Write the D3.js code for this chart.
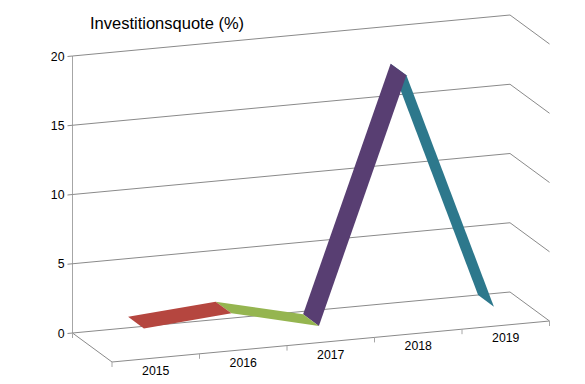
<!DOCTYPE html>
<html>
<head>
<meta charset="utf-8">
<script src="https://cdn.jsdelivr.net/npm/d3@7"></script>
<style>
  html, body { margin: 0; padding: 0; background: #fff; }
  text { font-family: "Liberation Sans", Arial, sans-serif; fill: #000; }
</style>
</head>
<body>
<div id="chart"></div>
<script>
// values
const years = ["2015", "2016", "2017", "2018", "2019"];
const quote = [1.5, 2.0, 0.5, 18, 0.7];
const valueTicks = [0, 5, 10, 15, 20];
const segmentColors = ["#b5463f", "#95b550", "#583e72", "#2d788c"];
const chartTitle = "Investitionsquote (%)";

const width = 585, height = 384;

// 3D box: back-left floor corner, category direction, depth direction
const origin = {x: 72.5, y: 333};
const catRun = {x: 437.5, y: -41};
const depthRun = {x: 39.5, y: 29};

const cat = d3.scaleBand().domain(years).range([0, 1]);
const val = d3.scaleLinear().domain([0, 20]).range([0, 277]);
// ribbon sits between 30% and 70% of the box depth
const ribbonBack = 0.3, ribbonFront = 0.7;

function project(c, d, v) {
    return [
        origin.x + c * catRun.x + d * depthRun.x,
        origin.y + c * catRun.y + d * depthRun.y - val(v)
    ];
}
const catCenter = y => cat(y) + cat.bandwidth() / 2;

const svg = d3.select("#chart").append("svg")
    .attr("width", width)
    .attr("height", height);

const line = d3.line();
const grid = "#8a8a8a";

// left wall line
svg.append("path")
    .attr("d", line([project(0, 0, 0), project(0, 0, 20)]))
    .attr("stroke", "#a6a6a6").attr("fill", "none");

// gridlines: back wall + side wall
svg.selectAll(".grid")
  .data(valueTicks)
  .enter()
  .append("path")
    .attr("class", "grid")
    .attr("d", v => line([project(0, 0, v), project(1, 0, v), project(1, 1, v)]))
    .attr("stroke", grid)
    .attr("fill", "none");

// value ticks + labels
svg.selectAll(".vtick")
  .data(valueTicks)
  .enter()
  .append("path")
    .attr("class", "vtick")
    .attr("d", v => {
        const p = project(0, 0, v);
        return line([[p[0] - 5, p[1] + 0.5], p]);
    })
    .attr("stroke", grid);

svg.selectAll(".vlabel")
  .data(valueTicks)
  .enter()
  .append("text")
    .attr("class", "vlabel")
    .attr("x", v => project(0, 0, v)[0] - 8)
    .attr("y", v => project(0, 0, v)[1] + 4.5)
    .attr("text-anchor", "end")
    .style("font-size", "12.3px")
    .text(v => v);

// floor edges
svg.append("path")
    .attr("d", line([project(0, 0, 0), project(0, 1, 0), project(1, 1, 0)]))
    .attr("stroke", grid).attr("fill", "none");

// small tick under the back-left corner
svg.append("path")
    .attr("d", () => {
        const p = project(0, 0, 0);
        return line([p, [p[0], p[1] + 5]]);
    })
    .attr("stroke", "#a6a6a6");

// category boundary ticks on the front edge
const boundaries = d3.range(years.length + 1).map(i => i * cat.step());
svg.selectAll(".ctick")
  .data(boundaries)
  .enter()
  .append("path")
    .attr("class", "ctick")
    .attr("d", c => {
        const p = project(c, 1, 0);
        return line([p, [p[0], p[1] + 5]]);
    })
    .attr("stroke", "#a6a6a6");

svg.selectAll(".clabel")
  .data(years)
  .enter()
  .append("text")
    .attr("class", "clabel")
    .attr("x", y => project(catCenter(y), 1, 0)[0])
    .attr("y", y => project(catCenter(y), 1, 0)[1] + 17)
    .attr("text-anchor", "middle")
    .style("font-size", "12.3px")
    .text(y => y);

// ribbon segments, last one first so the purple one lies over the teal
const segments = d3.pairs(years.map((y, i) => ({year: y, value: quote[i]})))
    .map((pair, i) => ({a: pair[0], b: pair[1], color: segmentColors[i]}))
    .reverse();

svg.selectAll(".segment")
  .data(segments)
  .enter()
  .append("path")
    .attr("class", "segment")
    .attr("d", s => line([
        project(catCenter(s.a.year), ribbonBack, s.a.value),
        project(catCenter(s.b.year), ribbonBack, s.b.value),
        project(catCenter(s.b.year), ribbonFront, s.b.value),
        project(catCenter(s.a.year), ribbonFront, s.a.value)
    ]) + "Z")
    .attr("fill", s => s.color);

// title
svg.append("text")
    .attr("x", 90)
    .attr("y", 29)
    .style("font-size", "16.5px")
    .text(chartTitle);
</script>
</body>
</html>
